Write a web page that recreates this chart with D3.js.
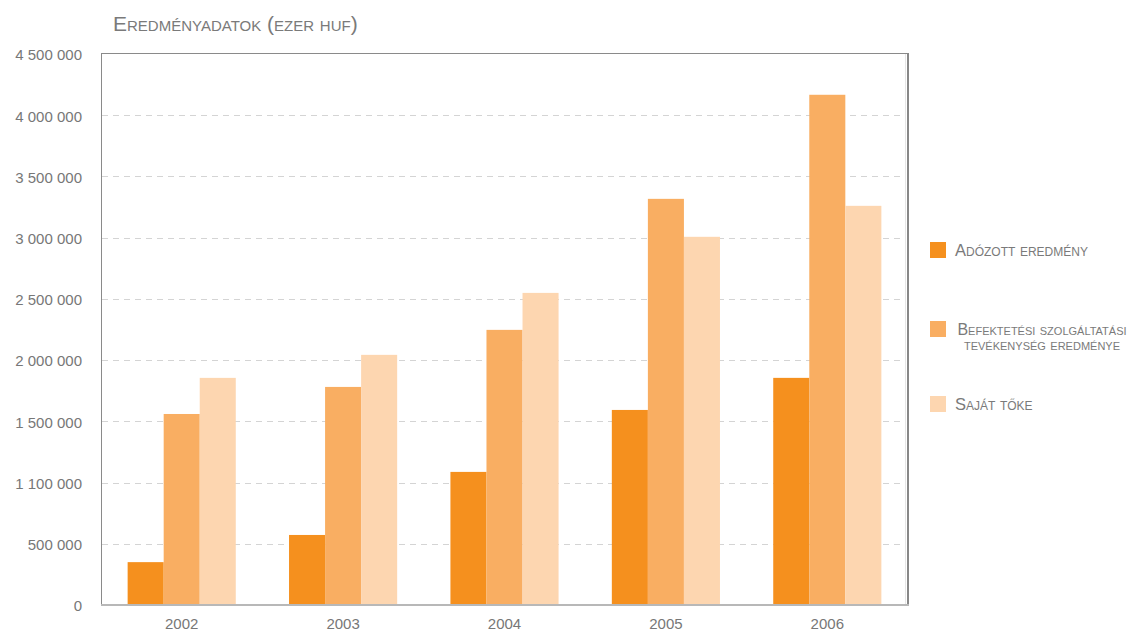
<!DOCTYPE html>
<html>
<head>
  <meta charset="utf-8">
  <title>Eredményadatok</title>
  <style>
    body { margin: 0; background: #fff; font-family: "Liberation Sans", Arial, sans-serif; }
    .grid line { stroke: #d4d4d4; stroke-dasharray: 6 5; }
    .axis text { fill: #777; font-size: 15px; }
    .sc { font-variant: small-caps; fill: #7a7a7a; }
  </style>
  <script src="https://d3js.org/d3.v7.min.js"></script>
</head>
<body>
  <script>
    var years = ["2002", "2003", "2004", "2005", "2006"];
    var seriesNames = ["Adózott eredmény", "Befektetési szolgáltatási tevékenység eredménye", "Saját tőke"];
    var adozott    = [350000, 572000, 1087000, 1593000, 1855000];
    var befektetes = [1560000, 1781000, 2247000, 3317000, 4167000];
    var sajatToke  = [1855000, 2043000, 2549000, 3007000, 3260000];
    var tickValues = [0, 500000, 1000000, 1500000, 2000000, 2500000, 3000000, 3500000, 4000000, 4500000];
    var tickLabels = ["0", "500 000", "1 100 000", "1 500 000", "2 000 000", "2 500 000", "3 000 000", "3 500 000", "4 000 000", "4 500 000"];
    var colors = ["#f5901e", "#f9ae62", "#fdd6b0"];

    var series = [adozott, befektetes, sajatToke];
    var width = 1132, height = 632;
    var pLeft = 101, pRight = 908, pTop = 54, pBottom = 605;

    var svg = d3.select('body').append('svg')
      .attr('width', width)
      .attr('height', height);

    var y = d3.scaleLinear().domain([0, 4500000]).range([pBottom, pTop]);
    var x0 = d3.scaleBand().domain(years).range([pLeft, pRight])
      .paddingInner(0.33).paddingOuter(0.165);
    var x1 = d3.scaleBand().domain(d3.range(3)).range([0, x0.bandwidth()]);

    // gridlines
    svg.append('g').attr('class', 'grid')
      .selectAll('line')
      .data(tickValues.slice(1, -1))
      .enter().append('line')
        .attr('x1', pLeft + 1).attr('x2', pRight - 2)
        .attr('y1', d => Math.round(y(d)) + 0.5)
        .attr('y2', d => Math.round(y(d)) + 0.5);

    // bars
    svg.append('g').selectAll('g')
      .data(years)
      .enter().append('g')
        .attr('transform', d => 'translate(' + x0(d) + ',0)')
      .selectAll('rect')
      .data((d, i) => series.map((s, k) => ({k: k, v: s[i]})))
      .enter().append('rect')
        .attr('x', d => x1(d.k))
        .attr('width', x1.bandwidth())
        .attr('y', d => y(d.v))
        .attr('height', d => pBottom - y(d.v))
        .attr('fill', d => colors[d.k]);

    // frame
    svg.append('line').attr('x1', pLeft + 0.5).attr('x2', pLeft + 0.5).attr('y1', pTop - 1).attr('y2', pBottom)
      .attr('stroke', '#8a8a8a');
    svg.append('line').attr('x1', pLeft).attr('x2', pRight).attr('y1', pTop - 0.5).attr('y2', pTop - 0.5)
      .attr('stroke', '#8a8a8a');
    svg.append('line').attr('x1', pRight - 2.5).attr('x2', pRight - 2.5).attr('y1', pTop).attr('y2', pBottom)
      .attr('stroke', '#e6e6e6');
    svg.append('line').attr('x1', pRight).attr('x2', pRight).attr('y1', pTop - 1).attr('y2', pBottom + 1)
      .attr('stroke', '#888').attr('stroke-width', 2);
    svg.append('line').attr('x1', pLeft).attr('x2', pRight + 1).attr('y1', pBottom).attr('y2', pBottom)
      .attr('stroke', '#b8b8b8').attr('stroke-width', 2);

    // y axis labels
    var yAxis = d3.axisLeft(y)
      .tickValues(tickValues)
      .tickFormat((d, i) => tickLabels[i])
      .tickSize(0).tickPadding(0);
    svg.append('g').attr('class', 'axis')
      .attr('transform', 'translate(82,1)')
      .call(yAxis)
      .call(g => g.select('.domain').remove());

    // x axis labels
    var xAxis = d3.axisBottom(x0).tickSize(0).tickPadding(0);
    svg.append('g').attr('class', 'axis')
      .attr('transform', 'translate(0,' + (pBottom + 13) + ')')
      .call(xAxis)
      .call(g => g.select('.domain').remove());

    // title
    svg.append('text').attr('class', 'sc')
      .attr('x', 113).attr('y', 31)
      .style('font-size', '21px')
      .text('Eredményadatok (ezer huf)');

    // legend
    var legendY = [242, 321, 396];
    var legend = svg.append('g').selectAll('g')
      .data(seriesNames)
      .enter().append('g')
        .attr('transform', (d, i) => 'translate(930,' + legendY[i] + ')');
    legend.append('rect')
      .attr('width', 16).attr('height', 16)
      .attr('fill', (d, i) => colors[i]);
    legend.filter((d, i) => i !== 1).append('text')
      .attr('class', 'sc')
      .attr('x', 25).attr('y', 14)
      .style('font-size', '16.5px')
      .text(d => d);
    var two = legend.filter((d, i) => i === 1).append('text')
      .attr('class', 'sc')
      .style('font-size', '16px')
      .attr('text-anchor', 'middle');
    two.append('tspan').attr('x', 112).attr('y', 14).text('Befektetési szolgáltatási');
    two.append('tspan').attr('x', 112).attr('y', 29).text('tevékenység eredménye');
  </script>
</body>
</html>
